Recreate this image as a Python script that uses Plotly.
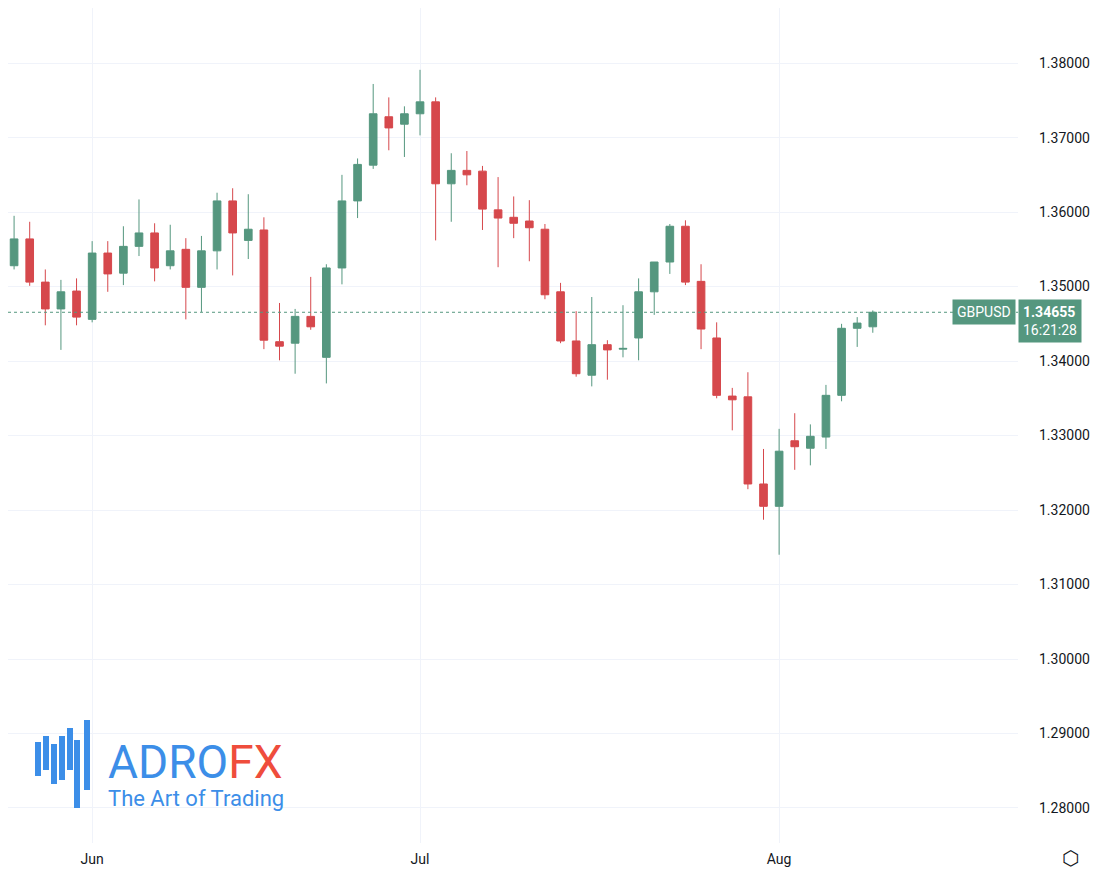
import plotly.graph_objects as go

dates = ["May 26","May 27","May 28","May 29","May 30",
 "Jun 2","Jun 3","Jun 4","Jun 5","Jun 6","Jun 9","Jun 10","Jun 11","Jun 12","Jun 13",
 "Jun 16","Jun 17","Jun 18","Jun 19","Jun 20","Jun 23","Jun 24","Jun 25","Jun 26","Jun 27","Jun 30",
 "Jul 1","Jul 2","Jul 3","Jul 4","Jul 7","Jul 8","Jul 9","Jul 10","Jul 11","Jul 14","Jul 15","Jul 16",
 "Jul 17","Jul 18","Jul 21","Jul 22","Jul 23","Jul 24","Jul 25","Jul 28","Jul 29","Jul 30","Jul 31",
 "Aug 1","Aug 4","Aug 5","Aug 6","Aug 7","Aug 8","Aug 11"]
opens = [1.3528,1.3564,1.3506,1.3470,1.3494,1.3456,1.3545,1.3518,1.3554,1.3572,1.3528,1.3550,1.3499,1.3548,1.3615,
 1.3562,1.3576,1.3426,1.3424,1.3460,1.3405,1.3525,1.3615,1.3663,1.3728,1.3718,1.3732,1.3748,1.3638,1.3656,1.3655,
 1.3603,1.3593,1.3588,1.3577,1.3493,1.3427,1.3381,1.3422,1.3416,1.3431,1.3493,1.3533,1.3581,1.3507,1.3431,1.3353,
 1.3352,1.3235,1.3205,1.3293,1.3283,1.3298,1.3354,1.3444,1.3446]
highs = [1.3595,1.3587,1.3523,1.3509,1.3511,1.3561,1.3561,1.3581,1.3617,1.3585,1.3583,1.3565,1.3568,1.3626,1.3632,
 1.3624,1.3593,1.3478,1.3470,1.3513,1.3530,1.3650,1.3672,1.3772,1.3754,1.3742,1.3791,1.3754,1.3679,1.3682,1.3662,
 1.3647,1.3621,1.3616,1.3584,1.3505,1.3467,1.3486,1.3428,1.3475,1.3511,1.3533,1.3584,1.3589,1.3530,1.3452,1.3364,
 1.3385,1.3282,1.3309,1.3330,1.3315,1.3368,1.3450,1.3459,1.3468]
lows = [1.3523,1.3501,1.3448,1.3415,1.3448,1.3452,1.3493,1.3502,1.3541,1.3507,1.3523,1.3456,1.3466,1.3523,1.3515,
 1.3537,1.3416,1.3401,1.3383,1.3442,1.3370,1.3503,1.3592,1.3658,1.3683,1.3674,1.3703,1.3562,1.3587,1.3636,1.3576,
 1.3526,1.3565,1.3534,1.3483,1.3424,1.3379,1.3366,1.3375,1.3405,1.3401,1.3462,1.3517,1.3502,1.3416,1.3350,1.3307,
 1.3228,1.3187,1.3140,1.3254,1.3260,1.3282,1.3346,1.3419,1.3438]
closes = [1.3564,1.3506,1.3470,1.3493,1.3459,1.3545,1.3517,1.3554,1.3572,1.3525,1.3548,1.3499,1.3548,1.3615,1.3572,
 1.3577,1.3428,1.3420,1.3460,1.3446,1.3525,1.3615,1.3664,1.3732,1.3713,1.3732,1.3748,1.3638,1.3656,1.3650,1.3604,
 1.3592,1.3585,1.3579,1.3489,1.3427,1.3383,1.3422,1.3415,1.3417,1.3493,1.3533,1.3581,1.3506,1.3443,1.3354,1.3348,
 1.3235,1.3205,1.3279,1.3285,1.3299,1.3354,1.3444,1.3451,1.34655]
month_ticks = ["Jun 2", "Jul 1", "Aug 1"]
month_labels = ["Jun", "Jul", "Aug"]
price_ticks = [1.28, 1.29, 1.30, 1.31, 1.32, 1.33, 1.34, 1.35, 1.36, 1.37, 1.38]

GREEN = "#55977f"
RED = "#d6484c"
xs = list(range(len(dates)))

fig = go.Figure(go.Candlestick(
    x=xs, open=opens, high=highs, low=lows, close=closes,
    increasing=dict(line=dict(color=GREEN, width=1), fillcolor=GREEN),
    decreasing=dict(line=dict(color=RED, width=1), fillcolor=RED),
    whiskerwidth=0, showlegend=False, hoverinfo="skip"))

last = closes[-1]
fig.add_hline(y=last, line=dict(color=GREEN, width=1, dash="dot"))

fig.update_layout(
    width=1114, height=878, margin=dict(l=0, r=104, t=0, b=43),
    paper_bgcolor="white", plot_bgcolor="white",
    font=dict(family="Roboto, sans-serif", color="#131722", size=14),
    xaxis=dict(range=[-0.39, 64.3], rangeslider=dict(visible=False),
               tickvals=[dates.index(d) for d in month_ticks], ticktext=month_labels,
               showgrid=True, gridcolor="#f0f3fa", zeroline=False, ticks="", showline=False,
               ticklabelstandoff=6),
    yaxis=dict(side="right", range=[1.2753, 1.3874], tickvals=price_ticks,
               ticktext=[f"{v:.5f}" for v in price_ticks], showgrid=True, gridcolor="#f0f3fa",
               zeroline=False, ticks="", ticklabelstandoff=20),
)

fig.add_annotation(xref="paper", yref="y", x=1.0, y=last, xanchor="left", yanchor="middle",
    text="<b>1.34655</b><br>16:21:28", showarrow=False, bgcolor=GREEN, font=dict(color="white", size=14),
    borderpad=4, xshift=0, yshift=-9, align="left")
fig.add_annotation(xref="paper", yref="y", x=1.0, y=last, xanchor="right", yanchor="middle",
    text="GBPUSD", showarrow=False, bgcolor=GREEN, font=dict(color="white", size=14), borderpad=4, xshift=-2)

W, H = 1010, 835
OFF = 8
bars = [(38, 742, 776), (46, 736, 770), (54, 744, 784), (62, 736, 780), (70, 728, 770), (77, 740, 808), (87, 720, 790)]
for bx, y0, y1 in bars:
    fig.add_shape(type="rect", xref="paper", yref="paper", x0=(bx - OFF - 3) / W, x1=(bx - OFF + 3) / W,
                  y0=1 - (y1 - OFF) / H, y1=1 - (y0 - OFF) / H, fillcolor="#3c8ee8", line=dict(width=0))
fig.add_annotation(xref="paper", yref="paper", x=(106 - OFF) / W, y=1 - (762 - OFF) / H, xanchor="left", yanchor="middle",
    text="<span style='color:#3c8ee8'>ADRO</span><span style='color:#ef4d3c'>FX</span>",
    showarrow=False, font=dict(size=46, family="Roboto, sans-serif"))
fig.add_annotation(xref="paper", yref="paper", x=(106 - OFF) / W, y=1 - (798 - OFF) / H, xanchor="left", yanchor="middle",
    text="The Art of Trading", showarrow=False, font=dict(size=22, color="#3c8ee8", family="Roboto, sans-serif"))
fig.add_annotation(xref="paper", yref="paper", x=(1070 - OFF) / W, y=1 - (858 - OFF) / H, xanchor="center",
    yanchor="middle", yshift=0, text="⬡", showarrow=False, font=dict(size=20, color="#131722"))

fig.write_html("out.html")
